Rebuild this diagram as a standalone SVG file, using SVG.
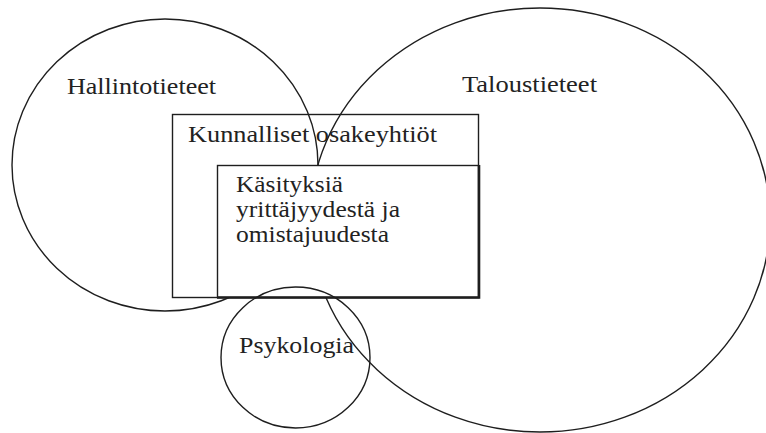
<svg xmlns="http://www.w3.org/2000/svg" width="766" height="433" viewBox="0 0 766 433">
  <style>
    .outline { fill: none; stroke: #1e1e1e; stroke-width: 1.4; }
    .label { font-family: "Liberation Serif", "DejaVu Serif", serif; font-size: 23px; fill: #222; }
  </style>
  <rect width="766" height="433" fill="#fff"/>

  <g id="hallintotieteet">
    <ellipse class="outline" cx="165" cy="165" rx="153" ry="146"/>
    <text class="label" x="67" y="94" textLength="149" lengthAdjust="spacingAndGlyphs">Hallintotieteet</text>
  </g>

  <g id="taloustieteet">
    <ellipse class="outline" cx="540" cy="220" rx="230" ry="212"/>
    <text class="label" x="462" y="92" textLength="135" lengthAdjust="spacingAndGlyphs">Taloustieteet</text>
  </g>

  <g id="kunnalliset-osakeyhtiot">
    <rect class="outline" x="172.5" y="114.5" width="306" height="183"/>
    <text class="label" x="188" y="142" textLength="249" lengthAdjust="spacingAndGlyphs">Kunnalliset osakeyhtiöt</text>
  </g>

  <g id="kasityksia">
    <rect x="217.5" y="165.5" width="261" height="132" fill="#fff" stroke="#1e1e1e" stroke-width="1.4"/>
    <path d="M217 297.5 H479 V165" fill="none" stroke="#1e1e1e" stroke-width="2.6"/>
    <text class="label" x="236" y="192" textLength="107" lengthAdjust="spacingAndGlyphs">Käsityksiä</text>
    <text class="label" x="236" y="217" textLength="164" lengthAdjust="spacingAndGlyphs">yrittäjyydestä ja</text>
    <text class="label" x="236" y="241.5" textLength="153" lengthAdjust="spacingAndGlyphs">omistajuudesta</text>
  </g>

  <g id="psykologia">
    <ellipse class="outline" cx="295.5" cy="357.5" rx="74.5" ry="70.5"/>
    <text class="label" x="239" y="353" textLength="115" lengthAdjust="spacingAndGlyphs">Psykologia</text>
  </g>
</svg>
